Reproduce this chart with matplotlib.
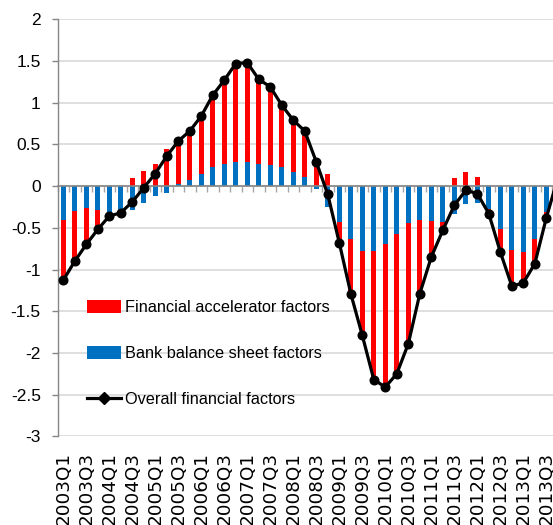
import numpy as np
import matplotlib
matplotlib.use("Agg")
import matplotlib.pyplot as plt
from matplotlib.patches import Patch
from matplotlib.lines import Line2D
from matplotlib.ticker import FixedLocator, FuncFormatter

# ---- data ----
quarters = [f"{y}Q{q}" for y in range(2003, 2014) for q in range(1, 5)]

bank_balance = [-0.41, -0.30, -0.26, -0.29, -0.31, -0.31, -0.29, -0.20, -0.12, -0.08,
                0.03, 0.07, 0.15, 0.23, 0.26, 0.29, 0.29, 0.26, 0.25, 0.23,
                0.17, 0.11, -0.03, -0.25, -0.43, -0.63, -0.78, -0.78, -0.69, -0.57,
                -0.44, -0.41, -0.42, -0.43, -0.33, -0.22, -0.20, -0.28, -0.52, -0.77,
                -0.79, -0.64, -0.31, 0.05]

fin_accel = [-0.72, -0.60, -0.44, -0.23, -0.05, -0.01, 0.10, 0.18, 0.27, 0.44,
             0.51, 0.59, 0.69, 0.86, 1.01, 1.18, 1.19, 1.02, 0.94, 0.74,
             0.62, 0.55, 0.32, 0.15, -0.25, -0.66, -1.01, -1.54, -1.72, -1.68,
             -1.45, -0.88, -0.43, -0.10, 0.10, 0.17, 0.11, -0.05, -0.27, -0.43,
             -0.37, -0.29, -0.07, 0.10]

overall = [-1.13, -0.90, -0.70, -0.52, -0.36, -0.32, -0.19, -0.02, 0.15, 0.36,
           0.54, 0.66, 0.84, 1.09, 1.27, 1.47, 1.48, 1.28, 1.19, 0.97,
           0.79, 0.66, 0.29, -0.10, -0.68, -1.29, -1.79, -2.32, -2.41, -2.25,
           -1.89, -1.29, -0.85, -0.53, -0.23, -0.05, -0.09, -0.33, -0.79, -1.20,
           -1.16, -0.93, -0.38, 0.10]

series_names = ["Financial accelerator factors", "Bank balance sheet factors",
                "Overall financial factors"]
y_ticks = [-3, -2.5, -2, -1.5, -1, -0.5, 0, 0.5, 1, 1.5, 2]

# ---- style ----
RED = "#FF0000"
BLUE = "#0070C0"
AXGRAY = "#868686"
GRID = "#D9D9D9"
plt.rcParams["axes.unicode_minus"] = False
sans = ["Liberation Sans", "DejaVu Sans"]

fig = plt.figure(figsize=(5.53, 5.25), dpi=100)
W, H = 553, 525
left_px, top_px, bot_px = 57.5, 19.3, 436.3
ax = fig.add_axes([left_px / W, 1 - bot_px / H, 1 - left_px / W, (bot_px - top_px) / H])

x = np.arange(len(quarters))
blue = np.array(bank_balance)
red = np.array(fin_accel)
red_bottom = np.where(np.sign(red) == np.sign(blue), blue, 0.0)

bw = 0.42
ax.bar(x, blue, width=bw, color=BLUE, zorder=1)
ax.bar(x, red, width=bw, bottom=red_bottom, color=RED, zorder=1)
ax.plot(x, overall, color="black", lw=2.3, marker="o", ms=6.2, zorder=3,
        solid_joinstyle="round")

ax.set_xlim(-0.5, 42.58)
ax.set_ylim(-3, 2)

# y axis
ax.set_yticks(y_ticks)
ax.yaxis.set_major_formatter(FuncFormatter(lambda v, p: f"{v:g}"))
ax.tick_params(axis="y", direction="out", length=4, width=1, color=AXGRAY, pad=8,
               labelsize=12.5)
for lab in ax.get_yticklabels():
    lab.set_family(sans)
ax.yaxis.grid(True, color=GRID, lw=1.2)
ax.set_axisbelow(True)

# spines
for s in ["top", "right"]:
    ax.spines[s].set_visible(False)
ax.spines["left"].set_color(AXGRAY)
ax.spines["left"].set_linewidth(1)
ax.spines["bottom"].set_position(("data", 0))
ax.spines["bottom"].set_color(AXGRAY)
ax.spines["bottom"].set_linewidth(1.2)
ax.spines["bottom"].set_zorder(2.5)

# boundary ticks on zero line
ax.xaxis.set_major_locator(FixedLocator(np.arange(len(quarters) + 1) - 0.5))
ax.xaxis.set_major_formatter(FuncFormatter(lambda v, p: ""))
ax.tick_params(axis="x", direction="out", length=4.5, width=1, color="#A6A6A6")

# category labels at the bottom
sec = ax.secondary_xaxis(0.0)
sec.set_xticks(x[::2], [quarters[i] for i in x[::2]], rotation=90)
sec.tick_params(length=0, pad=11, labelsize=13.2)
sec.spines["bottom"].set_visible(False)
for lab in sec.get_xticklabels():
    lab.set_family("DejaVu Sans")

# legend
handles = [Patch(facecolor=RED, edgecolor="none"),
           Patch(facecolor=BLUE, edgecolor="none"),
           Line2D([], [], color="black", lw=2.3, marker="D", ms=6)]
leg = ax.legend(handles, series_names, loc="upper left",
                bbox_to_anchor=((87 - left_px) / (W - left_px), (bot_px - 300) / (bot_px - top_px)),
                frameon=False, borderpad=0, borderaxespad=0,
                handlelength=2.1, handleheight=0.8, handletextpad=0.25,
                labelspacing=1.92, prop={"family": sans, "size": 11.7})

fig.savefig("out.png", dpi=100)
